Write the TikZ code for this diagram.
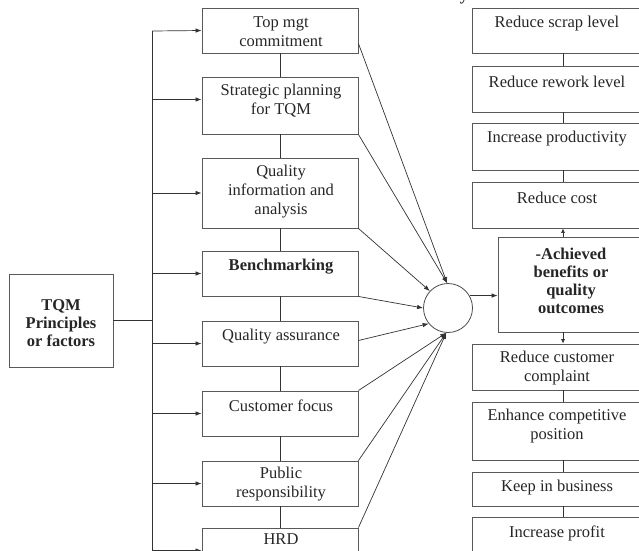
\documentclass[tikz,border=0pt]{standalone}
\usepackage{fontspec}
\setmainfont{Liberation Serif}
\usetikzlibrary{arrows.meta,calc}
\begin{document}
\begin{tikzpicture}[x=1pt,y=-1pt,
 box/.style={draw=black!65,line width=0.9pt,rectangle,inner sep=0pt},
 txt/.style={font=\fontsize{16.5}{19}\selectfont,align=center,inner sep=0pt,text=black!85},
 btxt/.style={txt,font=\fontsize{16.5}{18}\selectfont\bfseries},
 ln/.style={draw=black!80,line width=0.7pt},
 arr/.style={ln,-{Latex[length=6pt,width=4.5pt]}},
 sarr/.style={ln,-{Latex[length=4.5pt,width=4pt]}}]
\useasboundingbox (0,0) rectangle (639,550);
\clip (0,0) rectangle (639,550);
\fill[white] (0,0) rectangle (639,550);

% cut title fragment
\node[btxt,anchor=base] (ttl) at (464,0.5) {y};

% TQM box
\node[box,minimum width=104pt,minimum height=93pt] (t) at (61,320.5) {};
\node[btxt] (tt) at (61,323) {TQM\\Principles\\or factors};

% factor boxes
\node[box,minimum width=156pt,minimum height=45pt] (f1) at (280,30.5) {};
\node[box,minimum width=156pt,minimum height=57pt] (f2) at (280,105.5) {};
\node[box,minimum width=156pt,minimum height=70pt] (f3) at (280,193) {};
\node[box,minimum width=156pt,minimum height=45pt] (f4) at (280,273.5) {};
\node[box,minimum width=156pt,minimum height=45pt] (f5) at (280,343.5) {};
\node[box,minimum width=156pt,minimum height=45pt] (f6) at (280,413.5) {};
\node[box,minimum width=156pt,minimum height=45pt] (f7) at (280,483.5) {};
\node[box,minimum width=156pt,minimum height=45pt] (f8) at (280,550.5) {};

\node[txt] (ft1) at (281,32) {Top mgt\\commitment};
\node[txt] (ft2) at (281,101) {Strategic planning\\for TQM};
\node[txt] (ft3) at (281,192) {Quality\\information and\\analysis};
\node[btxt] (ft4) at (281,267) {Benchmarking};
\node[txt] (ft5) at (281,337) {Quality assurance};
\node[txt] (ft6) at (281,406) {Customer focus};
\node[txt] (ft7) at (281,484) {Public\\responsibility};
\node[txt] (ft8) at (281,539) {HRD};

% outcome boxes
\node[box,minimum width=178pt,minimum height=45pt] (o1) at (561,30.5) {};
\node[box,minimum width=178pt,minimum height=46pt] (o2) at (561,89) {};
\node[box,minimum width=178pt,minimum height=47pt] (o3) at (561,146.5) {};
\node[box,minimum width=178pt,minimum height=46pt] (o4) at (561,205) {};
\node[box,minimum width=152pt,minimum height=95pt] (o5) at (574,284.5) {};
\node[box,minimum width=178pt,minimum height=46pt] (o6) at (561,367) {};
\node[box,minimum width=178pt,minimum height=58pt] (o7) at (561,431) {};
\node[box,minimum width=178pt,minimum height=34pt] (o8) at (561,489) {};
\node[box,minimum width=178pt,minimum height=45pt] (o9) at (561,539.5) {};

\node[txt] (ot1) at (557,24) {Reduce scrap level};
\node[txt] (ot2) at (557,82) {Reduce rework level};
\node[txt] (ot3) at (557,139) {Increase productivity};
\node[txt] (ot4) at (557,198) {Reduce cost};
\node[btxt] (ot5) at (571,281) {-Achieved\\benefits or\\quality\\outcomes};
\node[txt] (ot6) at (557,368) {Reduce customer\\complaint};
\node[txt] (ot7) at (557,426) {Enhance competitive\\position};
\node[txt] (ot8) at (557,488) {Keep in business};
\node[txt] (ot9) at (557,533) {Increase profit};

% circle
\node[draw=black!70,line width=0.8pt,circle,minimum size=49pt,inner sep=0pt] (c) at (448,308) {};

% bus
\coordinate (bus) at (152,31);
\coordinate (busend) at (152,560);
\draw[ln] (bus) -- (busend);
\draw[ln] (t.east) -- (bus |- t.east);
\draw[arr] (bus) -- (f1.west);
\coordinate (f2in) at ($(f2.west)+(0,-6)$);
\draw[arr] (bus |- f2in) -- (f2in);
\foreach \i in {3,...,8} {\draw[arr] (bus |- f\i.west) -- (f\i.west);}

% vertical links between factors
\foreach \i/\j in {1/2,2/3,3/4,4/5,5/6,6/7,7/8} {\draw[ln] (f\i.south) -- (f\j.north);}

% lines into circle
\coordinate (s1) at ($(f1.east)+(0,13)$);
\draw[arr] (s1) -- (c.92);
\draw[arr] (f2.south east) -- (c.92);
\draw[arr] (f3.south east) -- (c.137);
\draw[arr] (f4.south east) -- (c.180);
\coordinate (s5) at ($(f5.east)+(0,-3)$);
\draw[arr] (s5) -- (c.219);
\draw[arr] (f6.north east) -- (c.266);
\draw[arr] (f7.north east) -- (c.266);
\draw[arr] (f8.north east) -- (c.266);

% circle to achieved
\draw[arr] (c.30) -- (c.30 -| o5.west);

% outcome links
\coordinate (xo) at (563,0);
\foreach \i/\j in {1/2,2/3,3/4,6/7,7/8,8/9} {\draw[ln] (xo |- o\i.south) -- (xo |- o\j.north);}
\draw[sarr] (xo |- o5.north) -- (xo |- o4.south);
\draw[sarr] (xo |- o5.south) -- (xo |- o6.north);
\end{tikzpicture}
\end{document}
